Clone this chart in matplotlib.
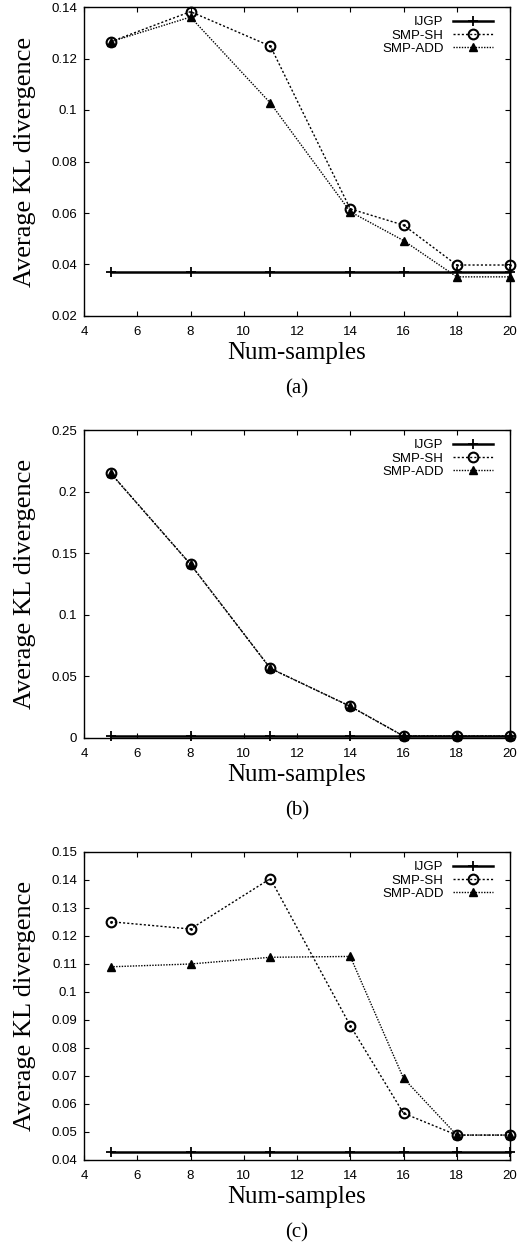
import matplotlib
matplotlib.use("Agg")
import matplotlib.pyplot as plt

num_samples = [5, 8, 11, 14, 16, 18, 20]

# Panel (a)
ijgp_a = [0.0372] * 7
smp_sh_a = [0.1265, 0.1382, 0.1248, 0.0616, 0.0553, 0.0398, 0.0398]
smp_add_a = [0.1265, 0.1361, 0.1027, 0.0605, 0.0493, 0.0352, 0.0352]

# Panel (b)
ijgp_b = [0.0018] * 7
smp_sh_b = [0.2150, 0.1410, 0.0565, 0.0257, 0.0016, 0.0016, 0.0016]
smp_add_b = [0.2150, 0.1410, 0.0565, 0.0257, 0.0016, 0.0016, 0.0016]

# Panel (c)
ijgp_c = [0.0430] * 7
smp_sh_c = [0.1251, 0.1225, 0.1405, 0.0880, 0.0567, 0.0489, 0.0489]
smp_add_c = [0.1090, 0.1100, 0.1124, 0.1127, 0.0692, 0.0489, 0.0489]

captions = ["(a)", "(b)", "(c)"]
ylims = [(0.02, 0.14), (0.0, 0.25), (0.04, 0.15)]
yticks = [
    [0.02, 0.04, 0.06, 0.08, 0.1, 0.12, 0.14],
    [0, 0.05, 0.1, 0.15, 0.2, 0.25],
    [0.04, 0.05, 0.06, 0.07, 0.08, 0.09, 0.1, 0.11, 0.12, 0.13, 0.14, 0.15],
]
ytick_labels = [
    ["0.02", "0.04", "0.06", "0.08", "0.1", "0.12", "0.14"],
    ["0", "0.05", "0.1", "0.15", "0.2", "0.25"],
    ["0.04", "0.05", "0.06", "0.07", "0.08", "0.09", "0.1", "0.11", "0.12", "0.13", "0.14", "0.15"],
]
xticks = [4, 6, 8, 10, 12, 14, 16, 18, 20]
series = [
    (ijgp_a, smp_sh_a, smp_add_a),
    (ijgp_b, smp_sh_b, smp_add_b),
    (ijgp_c, smp_sh_c, smp_add_c),
]

W, H = 520, 1243
fig = plt.figure(figsize=(W / 100, H / 100), dpi=100)

# axes boxes in pixels: (left, top, right, bottom)
boxes = [(84, 7, 510, 316), (84, 430, 510, 738), (84, 852, 510, 1160)]

sans = "Liberation Sans"
serif = "Liberation Serif"

for i, (box, (ij, sh, add)) in enumerate(zip(boxes, series)):
    l, t, r, b = box
    ax = fig.add_axes([l / W, 1 - b / H, (r - l) / W, (b - t) / H])
    ax.plot(num_samples, ij, color="black", lw=1.8, marker="+", ms=7, mew=1.3,
            label="IJGP", clip_on=False, zorder=3)
    ax.plot(num_samples, sh, color="black", lw=1.0, ls=(0, (1.5, 1.5)), marker="o",
            ms=7, mfc="none", mew=1.5, label="SMP-SH", clip_on=False, zorder=4)
    ax.plot(num_samples, sh, ls="none", marker=".", ms=2, color="black", clip_on=False, zorder=5)
    ax.plot(num_samples, add, color="black", lw=1.0, ls=(0, (1, 1)), marker="^",
            ms=5.5, label="SMP-ADD", clip_on=False, zorder=4)
    ax.set_xlim(4, 20)
    ax.set_ylim(*ylims[i])
    ax.set_xticks(xticks)
    ax.set_xticklabels([str(x) for x in xticks], fontfamily=sans, fontsize=9.5)
    ax.set_yticks(yticks[i])
    ax.set_yticklabels(ytick_labels[i], fontfamily=sans, fontsize=9.5)
    ax.tick_params(direction="in", top=True, right=True, length=3.6, width=0.8)
    ax.tick_params(axis="x", pad=7)
    ax.tick_params(axis="y", pad=5)
    for s in ax.spines.values():
        s.set_linewidth(1.0)
    ax.set_xlabel("Num-samples", fontfamily=serif, fontsize=18, labelpad=3)
    ax.set_ylabel("Average KL divergence", fontfamily=serif, fontsize=19, labelpad=11)
    leg = ax.legend(loc="upper right", frameon=False, markerfirst=False,
                    bbox_to_anchor=(493 / W, 1 - (t + 9) / H),
                    bbox_transform=fig.transFigure,
                    prop={"family": sans, "size": 9.5}, handlelength=3.0,
                    labelspacing=0.08, borderaxespad=0, borderpad=0, handletextpad=0.75)
    for txt in leg.get_texts():
        txt.set_ha("right")
    fig.text((l + r) / 2 / W, 1 - (b + 73) / H, captions[i], ha="center", va="center",
             fontfamily=serif, fontsize=15)

fig.savefig("out.png", dpi=100)
